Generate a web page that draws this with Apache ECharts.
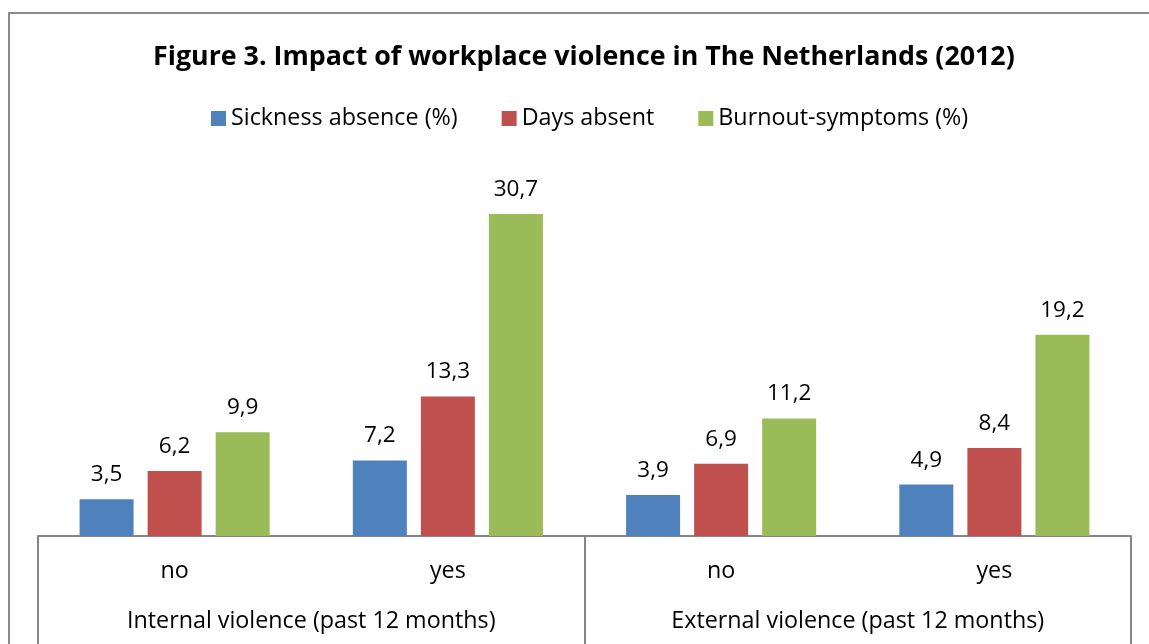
<!DOCTYPE html>
<html><head><meta charset="utf-8">
<script src="https://cdn.jsdelivr.net/npm/echarts@6/dist/echarts.min.js"></script>
<style>html,body{margin:0;padding:0;background:#fff}#c{width:1149px;height:644px}</style>
</head><body><div id="c"></div>
<script>
var titleText = 'Figure 3. Impact of workplace violence in The Netherlands (2012)';
var subCategories = ['no', 'yes', 'no', 'yes'];
var groupCategories = ['Internal violence (past 12 months)', 'External violence (past 12 months)'];
var seriesNames = ['Sickness absence (%)', 'Days absent', 'Burnout-symptoms (%)'];
var sicknessAbsence = [3.5, 7.2, 3.9, 4.9];
var daysAbsent = [6.2, 13.3, 6.9, 8.4];
var burnout = [9.9, 30.7, 11.2, 19.2];
var colors = ['#4F81BD', '#C0504D', '#9BBB59'];

var FONT = 'Open Sans';
var FS = 22.5;
var FS2 = 23.3;
var chart = echarts.init(document.getElementById('c'), null, {renderer: 'canvas'});
function mk(name, data, color) {
  return {
    name: name, type: 'bar', data: data, barWidth: 54, barGap: '26%',
    itemStyle: {color: color},
    label: {show: true, position: 'top', distance: 13, color: '#000', fontFamily: FONT, fontSize: FS,
      formatter: function (p) { return String(p.value).replace('.', ','); }}
  };
}
chart.setOption({
  animation: false,
  title: {text: titleText, left: 148, top: 39,
    textStyle: {fontFamily: FONT, fontWeight: 'bold', fontSize: 26.8, color: '#000'}},
  legend: {data: seriesNames, top: 102, left: 206, itemWidth: 15, itemHeight: 15, itemGap: 44,
    icon: 'rect', textStyle: {fontFamily: FONT, fontSize: FS2, color: '#000'}},
  grid: {left: 38, right: 18, top: 169, bottom: 108, containLabel: false},
  xAxis: [
    {type: 'category', data: subCategories, position: 'bottom',
     axisLine: {lineStyle: {color: '#868686', width: 2}}, axisTick: {show: false},
     axisLabel: {margin: 24, color: '#000', fontFamily: FONT, fontSize: FS2}},
    {type: 'category', data: groupCategories, position: 'bottom', offset: 0,
     axisLine: {show: false},
     axisTick: {show: true, length: 110, lineStyle: {color: '#868686', width: 2}},
     axisLabel: {margin: 74, color: '#000', fontFamily: FONT, fontSize: FS2}}
  ],
  yAxis: {type: 'value', min: 0, max: 35, show: false, splitLine: {show: false}},
  series: [mk(seriesNames[0], sicknessAbsence, colors[0]), mk(seriesNames[1], daysAbsent, colors[1]), mk(seriesNames[2], burnout, colors[2])],
  graphic: [{type: 'rect', shape: {x: 9, y: 13, width: 1200, height: 700}, style: {fill: 'none', stroke: '#8a8a8a', lineWidth: 2}, silent: true, z: -1}]
});
</script></body></html>
